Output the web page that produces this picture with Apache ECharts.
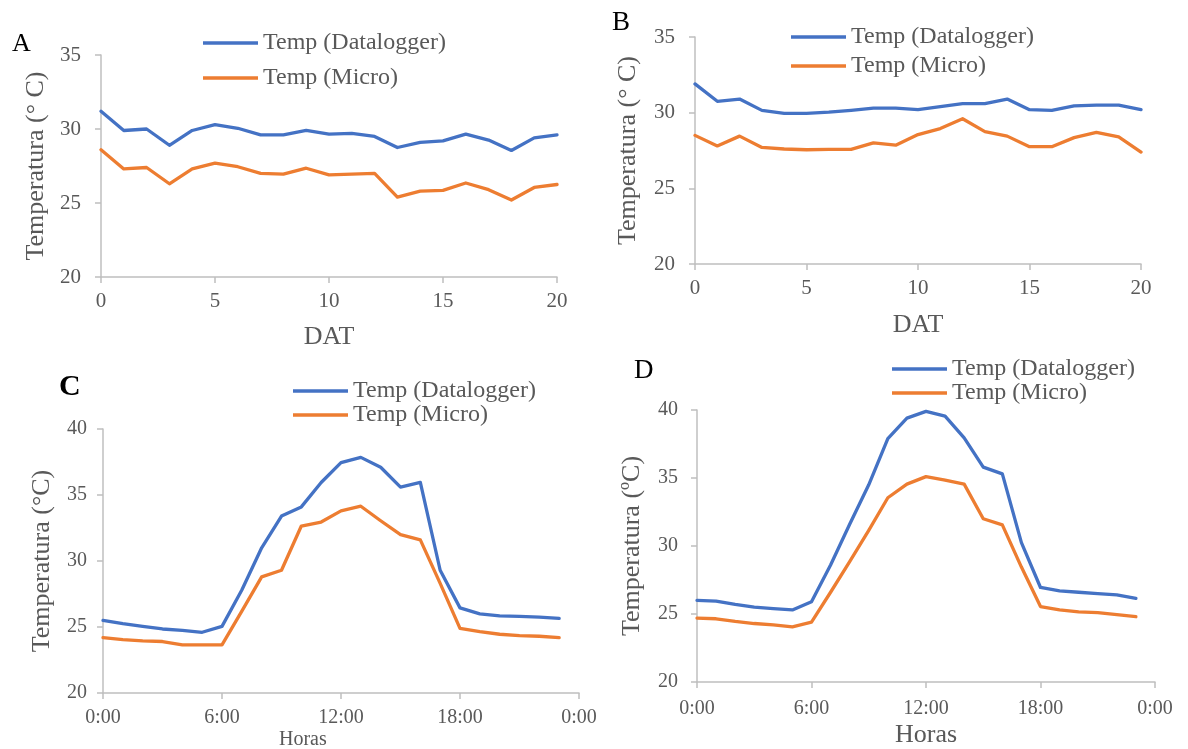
<!DOCTYPE html>
<html>
<head>
<meta charset="utf-8">
<title>Temperatura: Datalogger vs Micro</title>
<script src="https://cdn.jsdelivr.net/npm/echarts@6/dist/echarts.min.js"></script>
<style>
  html, body { margin: 0; padding: 0; background: #ffffff; }
  #chart { width: 1188px; height: 749px; }
</style>
</head>
<body>
<div id="chart"></div>
<script>
// Days after transplanting (panels A, B) and hour of day (panels C, D)
const days = [0, 1, 2, 3, 4, 5, 6, 7, 8, 9, 10, 11, 12, 13, 14, 15, 16, 17, 18, 19, 20];
const hours = [0, 1, 2, 3, 4, 5, 6, 7, 8, 9, 10, 11, 12, 13, 14, 15, 16, 17, 18, 19, 20, 21, 22, 23];

// Panel A: daily mean temperature (°C)
const aLogger = [31.2, 29.9, 30.0, 28.9, 29.9, 30.3, 30.05, 29.6, 29.6, 29.9, 29.65, 29.7, 29.5, 28.75, 29.1, 29.2, 29.65, 29.25, 28.55, 29.4, 29.6];
const aMicro  = [28.6, 27.3, 27.4, 26.3, 27.3, 27.7, 27.45, 27.0, 26.95, 27.35, 26.9, 26.95, 27.0, 25.4, 25.8, 25.85, 26.35, 25.9, 25.2, 26.05, 26.25];

// Panel B: daily mean temperature (°C)
const bLogger = [31.9, 30.75, 30.9, 30.15, 29.95, 29.95, 30.03, 30.15, 30.3, 30.3, 30.2, 30.4, 30.6, 30.6, 30.9, 30.2, 30.15, 30.45, 30.5, 30.5, 30.2];
const bMicro  = [28.5, 27.8, 28.45, 27.7, 27.6, 27.55, 27.57, 27.57, 28.0, 27.85, 28.55, 28.95, 29.6, 28.75, 28.45, 27.75, 27.75, 28.35, 28.7, 28.4, 27.4];

// Panel C: hourly temperature (°C)
const cLogger = [25.5, 25.25, 25.05, 24.85, 24.75, 24.6, 25.05, 27.8, 31.0, 33.4, 34.1, 35.95, 37.45, 37.85, 37.1, 35.6, 35.95, 29.3, 26.45, 26.0, 25.85, 25.8, 25.75, 25.65];
const cMicro  = [24.2, 24.05, 23.95, 23.9, 23.65, 23.65, 23.65, 26.2, 28.8, 29.3, 32.65, 32.95, 33.8, 34.15, 33.05, 32.0, 31.6, 28.3, 24.9, 24.65, 24.45, 24.35, 24.3, 24.2];

// Panel D: hourly temperature (°C)
const dLogger = [26.0, 25.95, 25.7, 25.5, 25.4, 25.3, 25.9, 28.6, 31.6, 34.5, 37.9, 39.4, 39.9, 39.55, 37.95, 35.8, 35.3, 30.25, 26.95, 26.7, 26.6, 26.5, 26.4, 26.15];
const dMicro  = [24.7, 24.65, 24.45, 24.3, 24.2, 24.05, 24.4, 26.6, 28.85, 31.15, 33.55, 34.55, 35.1, 34.85, 34.55, 32.0, 31.55, 28.45, 25.55, 25.3, 25.15, 25.1, 24.95, 24.8];

const NAME_LOGGER = 'Temp (Datalogger)';
const NAME_MICRO = 'Temp (Micro)';
const BLUE = '#4472C4';
const ORANGE = '#ED7D31';
const SERIF = "'Liberation Serif', 'Times New Roman', serif";
const GREY_TEXT = '#595959';
const AXIS_GREY = '#BFBFBF';

function pairs(xs, ys) { return xs.map((x, i) => [x, ys[i]]); }

function xAxisCfg(grid, opt) {
  return Object.assign({
    gridIndex: grid,
    type: 'value',
    nameLocation: 'middle',
    axisLine: { show: true, onZero: false, lineStyle: { color: AXIS_GREY, width: 1.5 } },
    axisTick: { show: true, length: 6, lineStyle: { color: AXIS_GREY, width: 1.5 } },
    splitLine: { show: false },
    axisLabel: { color: GREY_TEXT, fontFamily: SERIF, fontSize: 21, margin: 14 },
    nameTextStyle: { color: GREY_TEXT, fontFamily: SERIF, fontSize: 26 }
  }, opt);
}

function yAxisCfg(grid, opt) {
  return Object.assign({
    gridIndex: grid,
    type: 'value',
    nameLocation: 'middle',
    axisLine: { show: true, lineStyle: { color: AXIS_GREY, width: 1.5 } },
    axisTick: { show: true, length: 6, lineStyle: { color: AXIS_GREY, width: 1.5 } },
    splitLine: { show: false },
    axisLabel: { color: GREY_TEXT, fontFamily: SERIF, fontSize: 21, margin: 20 },
    nameTextStyle: { color: GREY_TEXT, fontFamily: SERIF, fontSize: 26 }
  }, opt);
}

const hourFmt = v => (v % 24) + ':00';

function lineSeries(name, color, grid, data) {
  return {
    name: name,
    type: 'line',
    xAxisIndex: grid,
    yAxisIndex: grid,
    data: data,
    showSymbol: false,
    symbol: 'none',
    silent: true,
    lineStyle: { color: color, width: 3.3, cap: 'round', join: 'round' },
    itemStyle: { color: color },
    z: name === NAME_LOGGER ? 3 : 2
  };
}

function legendCfg(left, top, gap, lh) {
  return {
    left: left, top: top,
    padding: 0,
    orient: 'vertical',
    itemWidth: 55, itemHeight: 3.5, itemGap: gap,
    icon: 'rect',
    selectedMode: false,
    data: [NAME_LOGGER, NAME_MICRO],
    textStyle: { color: GREY_TEXT, fontFamily: SERIF, fontSize: 24, lineHeight: lh }
  };
}

function letter(text, left, top, size, weight) {
  return {
    text: text, left: left, top: top, padding: 0,
    textStyle: { color: '#000000', fontFamily: SERIF, fontSize: size, fontWeight: weight }
  };
}

const chart = echarts.init(document.getElementById('chart'), null, { renderer: 'canvas' });

chart.setOption({
  backgroundColor: '#ffffff',
  animation: false,
  title: [
    letter('A', 12, 31, 26, 'normal'),
    letter('B', 612, 9, 27, 'normal'),
    letter('C', 59, 372, 30, 'bold'),
    letter('D', 634, 357, 27, 'normal')
  ],
  legend: [
    legendCfg(203, 31, 11, 24),
    legendCfg(791, 25, 5, 24),
    legendCfg(293, 379, 0, 23),
    legendCfg(892, 357, 0, 24)
  ],
  grid: [
    { left: 101, top: 55, width: 456, height: 222 },
    { left: 695, top: 37, width: 446, height: 227 },
    { left: 103, top: 429, width: 476, height: 264 },
    { left: 697, top: 410, width: 458, height: 272 }
  ],
  xAxis: [
    xAxisCfg(0, { min: 0, max: 20, interval: 5, name: 'DAT', nameGap: 47 }),
    xAxisCfg(1, { min: 0, max: 20, interval: 5, name: 'DAT', nameGap: 48 }),
    xAxisCfg(2, {
      min: 0, max: 24, interval: 6,
      axisLabel: { color: GREY_TEXT, fontFamily: SERIF, fontSize: 20, margin: 15, formatter: hourFmt }
    }),
    xAxisCfg(3, {
      min: 0, max: 24, interval: 6, name: 'Horas', nameGap: 40,
      axisLabel: { color: GREY_TEXT, fontFamily: SERIF, fontSize: 20, margin: 17, formatter: hourFmt }
    })
  ],
  yAxis: [
    yAxisCfg(0, { min: 20, max: 35, interval: 5, name: 'Temperatura (° C)', nameGap: 52 }),
    yAxisCfg(1, { min: 20, max: 35, interval: 5, name: 'Temperatura (° C)', nameGap: 54 }),
    yAxisCfg(2, {
      min: 20, max: 40, interval: 5, name: 'Temperatura (°C)', nameGap: 48,
      axisLabel: { color: GREY_TEXT, fontFamily: SERIF, fontSize: 20, margin: 16 }
    }),
    yAxisCfg(3, {
      min: 20, max: 40, interval: 5, name: 'Temperatura (ºC)', nameGap: 52,
      axisLabel: { color: GREY_TEXT, fontFamily: SERIF, fontSize: 20, margin: 19 }
    })
  ],
  graphic: [
    {
      type: 'text', left: 279, top: 730,
      style: { text: 'Horas', fill: GREY_TEXT, font: '20px ' + SERIF }
    }
  ],
  series: [
    lineSeries(NAME_LOGGER, BLUE, 0, pairs(days, aLogger)),
    lineSeries(NAME_MICRO, ORANGE, 0, pairs(days, aMicro)),
    lineSeries(NAME_LOGGER, BLUE, 1, pairs(days, bLogger)),
    lineSeries(NAME_MICRO, ORANGE, 1, pairs(days, bMicro)),
    lineSeries(NAME_LOGGER, BLUE, 2, pairs(hours, cLogger)),
    lineSeries(NAME_MICRO, ORANGE, 2, pairs(hours, cMicro)),
    lineSeries(NAME_LOGGER, BLUE, 3, pairs(hours, dLogger)),
    lineSeries(NAME_MICRO, ORANGE, 3, pairs(hours, dMicro))
  ]
});
</script>
</body>
</html>
